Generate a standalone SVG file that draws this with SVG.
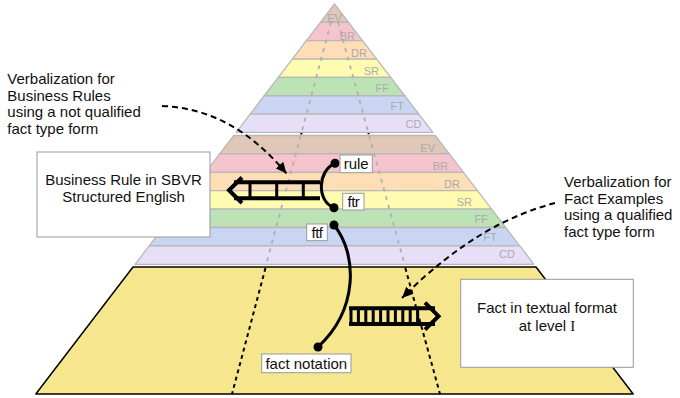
<svg xmlns="http://www.w3.org/2000/svg" width="680" height="398" viewBox="0 0 680 398">
<defs>
<style>
.band{stroke:#b8b8b8;stroke-width:1.3;stroke-linejoin:round}
.lbl{font-family:"Liberation Sans",Arial,sans-serif;font-size:11px;fill:#ababab;text-anchor:end}
.txt{font-family:"Liberation Sans",Arial,sans-serif;font-size:15px;fill:#111}
.mid{text-anchor:middle}
.box{fill:#fff;stroke:#999;stroke-width:1}
.gdot{fill:none;stroke:#b0b0b0;stroke-width:1.8;stroke-dasharray:4 5}
.bdot{fill:none;stroke:#000;stroke-width:2;stroke-dasharray:4 3.5}
.dash{fill:none;stroke:#000;stroke-width:2;stroke-dasharray:6 4}
.lad{fill:none;stroke:#000;stroke-width:4}
.rung{fill:none;stroke:#000;stroke-width:3}
.conn{fill:none;stroke:#000;stroke-width:3}
</style>
<marker id="ah" markerUnits="userSpaceOnUse" markerWidth="12" markerHeight="10" refX="11" refY="5" orient="auto">
<path d="M0,0 L11,5 L0,10 z" fill="#000"/>
</marker>
</defs>

<!-- black dotted lines (full length) -->
<g id="dotted-lines">
<line class="bdot" x1="331" y1="22" x2="232" y2="394"/>
<line class="bdot" x1="338" y1="22" x2="440" y2="394"/>
</g>

<g id="pyramid-top">
<polygon class="band" fill="#e0c7b7" points="334.5,4 348.56,22.35 320.44,22.35"/>
<polygon class="band" fill="#f5c4cc" points="320.44,22.35 348.56,22.35 362.61,40.7 306.39,40.7"/>
<polygon class="band" fill="#fddeb6" points="306.39,40.7 362.61,40.7 376.67,59.05 292.33,59.05"/>
<polygon class="band" fill="#fffbb0" points="292.33,59.05 376.67,59.05 390.72,77.4 278.28,77.4"/>
<polygon class="band" fill="#bde2b5" points="278.28,77.4 390.72,77.4 404.78,95.75 264.22,95.75"/>
<polygon class="band" fill="#c9d5f2" points="264.22,95.75 404.78,95.75 418.84,114.1 250.16,114.1"/>
<polygon class="band" fill="#e7dff8" points="250.16,114.1 418.84,114.1 432.89,132.45 236.11,132.45"/>
<line class="gdot" x1="331" y1="22" x2="301.6" y2="132.4"/>
<line class="gdot" x1="338" y1="22" x2="368.3" y2="132.4"/>
<text class="lbl" x="334.5" y="21.5" text-anchor="middle" style="text-anchor:middle">EV</text>
<text class="lbl" x="355" y="39.5">BR</text>
<text class="lbl" x="367" y="57">DR</text>
<text class="lbl" x="379" y="75">SR</text>
<text class="lbl" x="389" y="92">FF</text>
<text class="lbl" x="404" y="110">FT</text>
<text class="lbl" x="421.5" y="128">CD</text>
</g>

<g id="pyramid-middle">
<polygon class="band" fill="#e0c7b7" points="233.77,135.5 435.23,135.5 449.32,153.9 219.68,153.9"/>
<polygon class="band" fill="#f5c4cc" points="219.68,153.9 449.32,153.9 463.42,172.3 205.58,172.3"/>
<polygon class="band" fill="#fddeb6" points="205.58,172.3 463.42,172.3 477.51,190.7 191.49,190.7"/>
<polygon class="band" fill="#fffbb0" points="191.49,190.7 477.51,190.7 491.61,209.1 177.39,209.1"/>
<polygon class="band" fill="#bde2b5" points="177.39,209.1 491.61,209.1 505.7,227.5 163.3,227.5"/>
<polygon class="band" fill="#c9d5f2" points="163.3,227.5 505.7,227.5 519.8,245.9 149.2,245.9"/>
<polygon class="band" fill="#e7dff8" points="149.2,245.9 519.8,245.9 533.89,264.3 135.11,264.3"/>
<line class="gdot" x1="300.8" y1="135.5" x2="266" y2="265"/>
<line class="gdot" x1="369.1" y1="135.5" x2="404.8" y2="265"/>
<text class="lbl" x="435" y="152">EV</text>
<text class="lbl" x="448" y="170">BR</text>
<text class="lbl" x="460" y="187.5">DR</text>
<text class="lbl" x="472" y="205.5">SR</text>
<text class="lbl" x="488" y="223">FF</text>
<text class="lbl" x="497" y="240.5">FT</text>
<text class="lbl" x="515" y="257.5">CD</text>
</g>

<g id="base">
<polygon points="133,267 536,267 633.2,394 35.8,394" fill="#f6e68e" stroke="#000" stroke-width="1.5" stroke-linejoin="round"/>
<line class="bdot" x1="265.5" y1="268" x2="232" y2="394"/>
<line class="bdot" x1="405.3" y1="268" x2="440" y2="394"/>
</g>

<g id="annotation-left">
<text class="txt" x="7.3" y="84">Verbalization for</text>
<text class="txt" x="7.3" y="100.5">Business Rules</text>
<text class="txt" x="7.3" y="117">using a not qualified</text>
<text class="txt" x="7.3" y="133.5">fact type form</text>
</g>

<g id="annotation-right">
<text class="txt" x="564" y="187">Verbalization for</text>
<text class="txt" x="564" y="203.5">Fact Examples</text>
<text class="txt" x="564" y="220">using a qualified</text>
<text class="txt" x="564" y="236.5">fact type form</text>
</g>

<g id="box-business-rule">
<rect class="box" x="37" y="152" width="173" height="85"/>
<text class="txt mid" x="123.5" y="185">Business Rule in SBVR</text>
<text class="txt mid" x="123.5" y="201.5">Structured English</text>
</g>

<g id="box-fact">
<rect class="box" x="460.7" y="279.3" width="172.6" height="88"/>
<text class="txt mid" x="547" y="313">Fact in textual format</text>
<text class="txt mid" x="547" y="330.5">at level <tspan style="font-family:'Liberation Serif','Times New Roman',serif">I</tspan></text>
</g>

<g id="connectors">
<path class="dash" d="M162,106 C210,108 250,130 286.5,173.5" marker-end="url(#ah)"/>
<path class="dash" d="M555,203 C510,215 460,240 402,298" marker-end="url(#ah)"/>
<path class="conn" d="M335,163.3 C318,170 316,201 334,207.7"/>
<path class="conn" d="M334,225 C358,255 358,310 318,347"/>
<circle cx="335" cy="163.3" r="4.5"/>
<circle cx="334" cy="207.7" r="4.5"/>
<circle cx="334" cy="225" r="4.5"/>
<circle cx="318" cy="347" r="4.5"/>
</g>

<g id="ladder-left">
<polyline class="lad" points="242,177.5 229,190.3 242,203"/>
<line class="lad" x1="234" y1="182.3" x2="320" y2="182.3"/>
<line class="lad" x1="234" y1="198.3" x2="320" y2="198.3"/>
<line class="rung" x1="250" y1="182.3" x2="250" y2="198.3"/>
<line class="rung" x1="276.7" y1="182.3" x2="276.7" y2="198.3"/>
<line class="rung" x1="303.3" y1="182.3" x2="303.3" y2="198.3"/>
</g>

<g id="ladder-right">
<polyline class="lad" points="425,302.7 438.5,316.2 425,329.7"/>
<line class="lad" x1="349" y1="308.3" x2="435" y2="308.3"/>
<line class="lad" x1="349" y1="324" x2="435" y2="324"/>
<line class="rung" x1="351" y1="308.3" x2="351" y2="324"/>
<line class="rung" x1="358.4" y1="308.3" x2="358.4" y2="324"/>
<line class="rung" x1="365.8" y1="308.3" x2="365.8" y2="324"/>
<line class="rung" x1="373.2" y1="308.3" x2="373.2" y2="324"/>
<line class="rung" x1="380.6" y1="308.3" x2="380.6" y2="324"/>
<line class="rung" x1="388" y1="308.3" x2="388" y2="324"/>
<line class="rung" x1="395.4" y1="308.3" x2="395.4" y2="324"/>
<line class="rung" x1="402.8" y1="308.3" x2="402.8" y2="324"/>
<line class="rung" x1="410.2" y1="308.3" x2="410.2" y2="324"/>
<line class="rung" x1="417.6" y1="308.3" x2="417.6" y2="324"/>
</g>

<g id="label-rule">
<rect class="box" x="340" y="155" width="32.3" height="17.7"/>
<text class="txt mid" x="356.2" y="169">rule</text>
</g>
<g id="label-ftr">
<rect class="box" x="342.7" y="193.3" width="21.3" height="16.7"/>
<text class="txt mid" x="353.4" y="207" letter-spacing="-0.5">ftr</text>
</g>
<g id="label-ftf">
<rect class="box" x="306.7" y="224" width="20.6" height="16.7"/>
<text class="txt mid" x="317" y="238" letter-spacing="-0.5">ftf</text>
</g>
<g id="label-fact-notation">
<rect class="box" x="261.7" y="354" width="89.3" height="18.7"/>
<text class="txt mid" x="306.3" y="368.5">fact notation</text>
</g>
</svg>
